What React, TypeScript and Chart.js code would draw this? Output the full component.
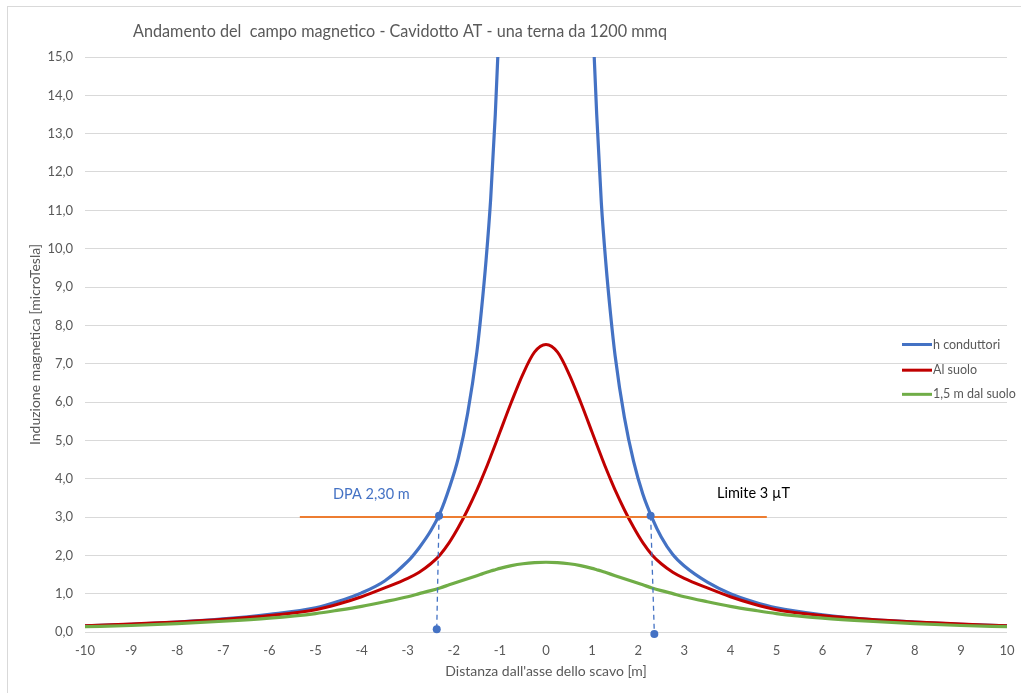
import React, { useEffect, useRef } from "react";
import { Chart, registerables } from "chart.js";

Chart.register(...registerables);

// ---- data ----
const chartTitle = "Andamento del  campo magnetico - Cavidotto AT - una terna da 1200 mmq";
const xAxisTitle = "Distanza dall'asse dello scavo [m]";
const yAxisTitle = "Induzione magnetica [microTesla]";

const seriesLabels = ["h conduttori", "Al suolo", "1,5 m dal suolo"];

const xValues = [
  -10, -9, -8, -7, -6, -5, -4.5, -4, -3.5, -3, -2.75, -2.5, -2.3, -2.1, -1.9, -1.7, -1.5, -1.4, -1.3, -1.2, -1.1, -1.0,
  -0.75, -0.5, -0.25, 0, 0.25, 0.5, 0.75,
  1.0, 1.1, 1.2, 1.3, 1.4, 1.5, 1.7, 1.9, 2.1, 2.3, 2.5, 2.75, 3, 3.5, 4, 4.5, 5, 6, 7, 8, 9, 10,
];

// values above the 15 µT scale are off the chart (null)
const hConduttori = [
  0.16, 0.2, 0.26, 0.34, 0.46, 0.63, 0.8, 1.02, 1.33, 1.84, 2.2, 2.64, 3.1, 3.75, 4.55, 5.7, 7.3, 8.4, 9.7, 11.3, 13.5, 16.3,
  null, null, null, null, null, null, null,
  16.3, 13.5, 11.2, 9.6, 8.3, 7.2, 5.6, 4.45, 3.6, 2.98, 2.48, 2.02, 1.72, 1.3, 1.0, 0.79, 0.63, 0.45, 0.33, 0.26, 0.2, 0.16,
];

const alSuolo = [
  0.16, 0.21, 0.26, 0.33, 0.43, 0.58, 0.73, 0.92, 1.15, 1.4, 1.56, 1.78, 2.01, 2.33, 2.73, 3.19, 3.7, 3.98, 4.27, 4.58, 4.89, 5.21,
  6.0, 6.73, 7.3, 7.5, 7.3, 6.73, 6.0,
  5.21, 4.89, 4.58, 4.27, 3.98, 3.7, 3.19, 2.73, 2.33, 2.01, 1.78, 1.56, 1.4, 1.15, 0.92, 0.73, 0.58, 0.43, 0.33, 0.26, 0.21, 0.16,
];

const unoCinqueSuolo = [
  0.14, 0.17, 0.22, 0.28, 0.36, 0.48, 0.57, 0.67, 0.79, 0.92, 1.0, 1.08, 1.15, 1.23, 1.31, 1.39, 1.47, 1.51, 1.55, 1.59, 1.625, 1.66,
  1.73, 1.78, 1.81, 1.82, 1.81, 1.78, 1.73,
  1.66, 1.625, 1.59, 1.55, 1.51, 1.47, 1.39, 1.31, 1.23, 1.15, 1.08, 1.0, 0.92, 0.79, 0.67, 0.57, 0.48, 0.36, 0.28, 0.22, 0.17, 0.14,
];

// limit line 3 µT
const limitX = [-5.34, 4.79];
const limitY = [3.0, 3.0];

// DPA markers
const dpaLeftX = [-2.32, -2.37];
const dpaLeftY = [3.03, 0.07];
const dpaRightX = [2.27, 2.35];
const dpaRightY = [3.03, -0.05];

const dpaText = "DPA 2,30 m";
const limitText = "Limite 3 µT";

const FONT = "Lato, 'Open Sans', sans-serif";
const GRAY = "#595959";

const zip = (xs: number[], ys: (number | null)[]) => xs.map((x, i) => ({ x, y: ys[i] }));

const overlayPlugin = {
  id: "overlay",
  beforeDraw(chart: any) {
    const { ctx } = chart;
    ctx.save();
    ctx.fillStyle = "#ffffff";
    ctx.fillRect(0, 0, chart.width, chart.height);
    ctx.strokeStyle = "#D9D9D9";
    ctx.lineWidth = 1;
    ctx.strokeRect(7.5, 6.5, chart.width + 20, chart.height + 20);
    ctx.restore();
  },
  afterDraw(chart: any) {
    const { ctx } = chart;
    const ys = chart.scales.y;
    ctx.save();
    // title
    ctx.font = `16.3px ${FONT}`;
    ctx.fillStyle = GRAY;
    ctx.textBaseline = "middle";
    ctx.textAlign = "left";
    ctx.fillText(chartTitle, 133, 32, 534);
    // annotations
    ctx.font = `14.5px ${FONT}`;
    ctx.fillStyle = "#4472C4";
    ctx.fillText(dpaText, 333, 494, 77);
    ctx.fillStyle = "#000000";
    ctx.fillText(limitText, 717, 493, 87);
    // legend
    const legendY = [ys.getPixelForValue(7.5), ys.getPixelForValue(6.83), ys.getPixelForValue(6.2)];
    ctx.font = `12.5px ${FONT}`;
    for (let i = 0; i < 3; i++) {
      const ds = chart.data.datasets[i];
      const y = legendY[i];
      ctx.strokeStyle = ds.borderColor;
      ctx.lineWidth = 3;
      ctx.beginPath();
      ctx.moveTo(902, y);
      ctx.lineTo(932, y);
      ctx.stroke();
      ctx.fillStyle = GRAY;
      ctx.fillText(ds.label, 933, y);
    }
    ctx.restore();
  },
};

export default function App() {
  const canvasRef = useRef<HTMLCanvasElement | null>(null);

  useEffect(() => {
    document.body.style.margin = "0";
    const canvas = canvasRef.current;
    if (!canvas) return;
    const chart = new Chart(canvas, {
      type: "scatter",
      data: {
        datasets: [
          {
            label: seriesLabels[0],
            data: zip(xValues, hConduttori),
            borderColor: "#4472C4",
            backgroundColor: "#4472C4",
            borderWidth: 3.2,
            showLine: true,
            pointRadius: 0,
            cubicInterpolationMode: "monotone",
            spanGaps: false,
            order: 2,
          },
          {
            label: seriesLabels[1],
            data: zip(xValues, alSuolo),
            borderColor: "#C00000",
            backgroundColor: "#C00000",
            borderWidth: 3,
            showLine: true,
            pointRadius: 0,
            cubicInterpolationMode: "monotone",
            order: 1,
          },
          {
            label: seriesLabels[2],
            data: zip(xValues, unoCinqueSuolo),
            borderColor: "#70AD47",
            backgroundColor: "#70AD47",
            borderWidth: 3.2,
            showLine: true,
            pointRadius: 0,
            cubicInterpolationMode: "monotone",
            order: 0,
          },
          {
            label: "Limite",
            data: zip(limitX, limitY),
            borderColor: "#ED7D31",
            backgroundColor: "#ED7D31",
            borderWidth: 2,
            showLine: true,
            pointRadius: 0,
            order: -1,
          },
          {
            label: "DPA sx",
            data: zip(dpaLeftX, dpaLeftY),
            borderColor: "#4472C4",
            backgroundColor: "#4472C4",
            borderWidth: 1.3,
            borderDash: [5, 4],
            showLine: true,
            pointRadius: 4,
            pointBorderWidth: 0,
            clip: false,
            order: -2,
          },
          {
            label: "DPA dx",
            data: zip(dpaRightX, dpaRightY),
            borderColor: "#4472C4",
            backgroundColor: "#4472C4",
            borderWidth: 1.3,
            borderDash: [5, 4],
            showLine: true,
            pointRadius: 4,
            pointBorderWidth: 0,
            clip: false,
            order: -2,
          },
        ],
      },
      options: {
        animation: false,
        responsive: false,
        devicePixelRatio: 1,
        layout: { padding: { left: 23, top: 57, right: 14, bottom: 9 } },
        plugins: {
          legend: { display: false },
          title: { display: false },
          tooltip: { enabled: false },
        },
        scales: {
          x: {
            type: "linear",
            min: -10,
            max: 10,
            ticks: {
              stepSize: 1,
              color: GRAY,
              font: { family: FONT, size: 13 },
              padding: 11,
              callback: (v: any) => String(v),
            },
            grid: { display: false, drawTicks: false },
            border: { display: false },
            title: {
              display: true,
              text: xAxisTitle,
              color: GRAY,
              font: { family: FONT, size: 14 },
              padding: { top: 4, bottom: 4 },
            },
            afterFit: (s: any) => {
              s.height = 52;
              s.paddingLeft = 0;
              s.paddingRight = 0;
            },
          },
          y: {
            min: 0,
            max: 15,
            ticks: {
              stepSize: 1,
              color: GRAY,
              font: { family: FONT, size: 13 },
              padding: 12,
              callback: (v: any) => Number(v).toFixed(1).replace(".", ","),
            },
            grid: { color: "#D9D9D9", lineWidth: 1, drawTicks: false },
            border: { display: false },
            title: {
              display: true,
              text: yAxisTitle,
              color: GRAY,
              font: { family: FONT, size: 14 },
              padding: { top: 4, bottom: 4 },
            },
            afterFit: (s: any) => {
              s.width = 62;
              s.paddingTop = 0;
              s.paddingBottom = 0;
            },
          },
        },
      },
      plugins: [overlayPlugin],
    } as any);
    return () => chart.destroy();
  }, []);

  return (
    <div style={{ width: 1021, height: 693 }}>
      <canvas ref={canvasRef} width={1021} height={693} style={{ width: 1021, height: 693, display: "block" }} />
    </div>
  );
}
